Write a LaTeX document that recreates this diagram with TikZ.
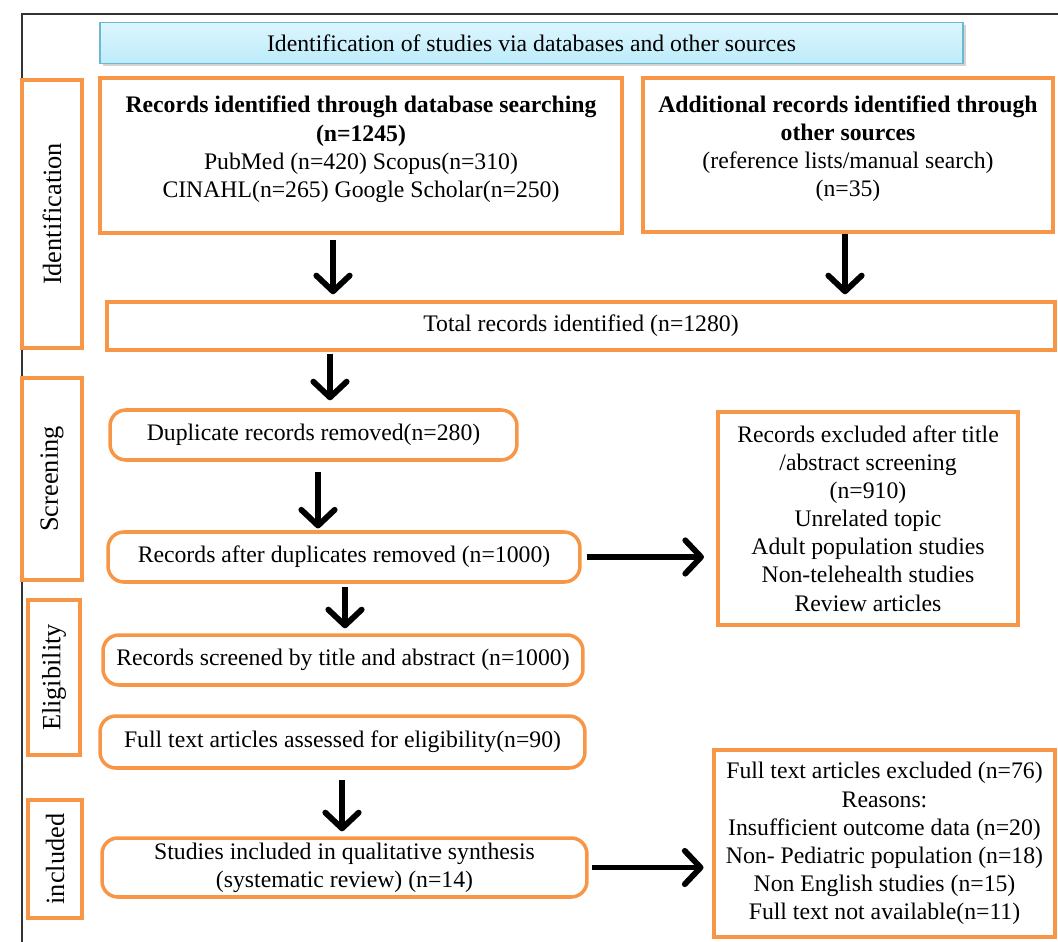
\documentclass[tikz,border=0pt]{standalone}
\usepackage{fontspec}
\setmainfont{Liberation Serif}
\usetikzlibrary{arrows.meta,shadows}

\definecolor{boxorange}{HTML}{F79646}
\definecolor{titletop}{HTML}{DDF6FE}
\definecolor{titlebottom}{HTML}{BDEBFA}
\definecolor{titleline}{HTML}{6BB8CF}

\tikzset{
  stagebox/.style={draw=boxorange, line width=2pt, rotate=90, inner sep=0pt,
    font=\fontsize{15}{18}\selectfont},
  recbox/.style={draw=boxorange, line width=2pt, align=center, inner sep=2pt},
  roundbox/.style={recbox, rounded corners=9pt},
  arr/.style={line width=3.3pt, -{Straight Barb[length=9pt,width=19pt,round]}},
}

\begin{document}
\begin{tikzpicture}[x=0.02cm, y=-0.02cm, font=\fontsize{13.5}{16}\selectfont]
  \useasboundingbox (0,0) rectangle (1058,942);
  \draw [line width=1pt, black!80] (1058,14) -- (22,14) -- (22,942);

  \node [draw=titleline, line width=1pt, top color=titletop, bottom color=titlebottom,
         drop shadow={shadow xshift=1.5pt, shadow yshift=-1.5pt, opacity=0.35},
         minimum width=17.26cm, minimum height=0.82cm] (title) at (531.5,43)
        {Identification of studies via databases and other sources};

  % stages
  \node [stagebox, minimum width=5.36cm, minimum height=1.2cm]  (identification) at (52,214)    {Identification};
  \node [stagebox, minimum width=4.04cm, minimum height=1.2cm]  (screening)      at (52,479)    {Screening};
  \node [stagebox, minimum width=3.1cm,  minimum height=1.04cm] (eligibility)    at (54,677.5)  {Eligibility};
  \node [stagebox, minimum width=2.36cm, minimum height=1.08cm] (included)       at (55,859)    {included};

  \node [recbox, minimum width=10.44cm, minimum height=3.1cm] (database) at (361,155.5)
        {\textbf{Records identified through database searching}\\\textbf{(n=1245)}\\
         PubMed (n=420) Scopus(n=310)\\CINAHL(n=265) Google Scholar(n=250)\\[-6pt]};
  \node [recbox, minimum width=8.2cm, minimum height=3.08cm] (othersrc) at (848,155)
        {\textbf{Additional records identified through}\\\textbf{other sources}\\
         (reference lists/manual search)\\(n=35)\\[-6pt]};
  \node [recbox, minimum width=18.96cm, minimum height=0.96cm] (total) at (581,326)
        {Total records identified (n=1280)};

  \node [roundbox, minimum width=8.14cm, minimum height=1cm]    (duplicates) at (313.5,435) {Duplicate records removed(n=280)};
  \node [roundbox, minimum width=9.44cm, minimum height=1cm]    (afterdup)   at (344,557)   {Records after duplicates removed (n=1000)};
  \node [recbox,   minimum width=6cm,    minimum height=4.26cm] (excluded)   at (868,518.5)
        {Records excluded after title\\/abstract screening\\(n=910)\\Unrelated topic\\
         Adult population studies\\Non-telehealth studies\\Review articles};

  \node [roundbox, minimum width=9.6cm, minimum height=1cm]    (screened) at (343,660)   {Records screened by title and abstract (n=1000)};
  \node [roundbox, minimum width=9.7cm, minimum height=1.04cm] (fulltext) at (342.5,742) {Full text articles assessed for eligibility(n=90)};
  \node [roundbox, minimum width=9.7cm, minimum height=1.18cm] (studies)  at (344.5,867.5)
        {Studies included in qualitative synthesis\\(systematic review) (n=14)};
  \node [recbox, minimum width=6.82cm, minimum height=3.74cm] (ftexcluded) at (884.5,843.5)
        {Full text articles excluded (n=76)\\Reasons:\\Insufficient outcome data (n=20)\\
         Non- Pediatric population (n=18)\\Non English studies (n=15)\\Full text not available(n=11)};

  \draw [arr, shorten <=2.8pt, shorten >=3.4pt] (database.south -| 333,0) -- (total.north -| 333,0);
  \draw [arr, shorten >=3.4pt] (othersrc.south -| 845,0) -- (total.north -| 845,0);
  \draw [arr, shorten <=1pt, shorten >=4.5pt] (total.south -| 330,0) -- (duplicates.north -| 330,0);
  \draw [arr, shorten <=5.6pt, shorten >=1pt] (duplicates.south -| 318,0) -- (afterdup.north -| 318,0);
  \draw [arr, shorten <=2.8pt, shorten >=7pt] (afterdup.east) -- (excluded.west |- afterdup.east);
  \draw [arr, shorten <=1.7pt, shorten >=2.8pt] (afterdup.south -| 345,0) -- (screened.north -| 345,0);
  \draw [arr, shorten <=5.6pt, shorten >=2.8pt] (fulltext.south -| 342,0) -- (studies.north -| 342,0);
  \draw [arr, shorten <=1.7pt, shorten >=5pt] (studies.east) -- (ftexcluded.west |- studies.east);
\end{tikzpicture}
\end{document}
